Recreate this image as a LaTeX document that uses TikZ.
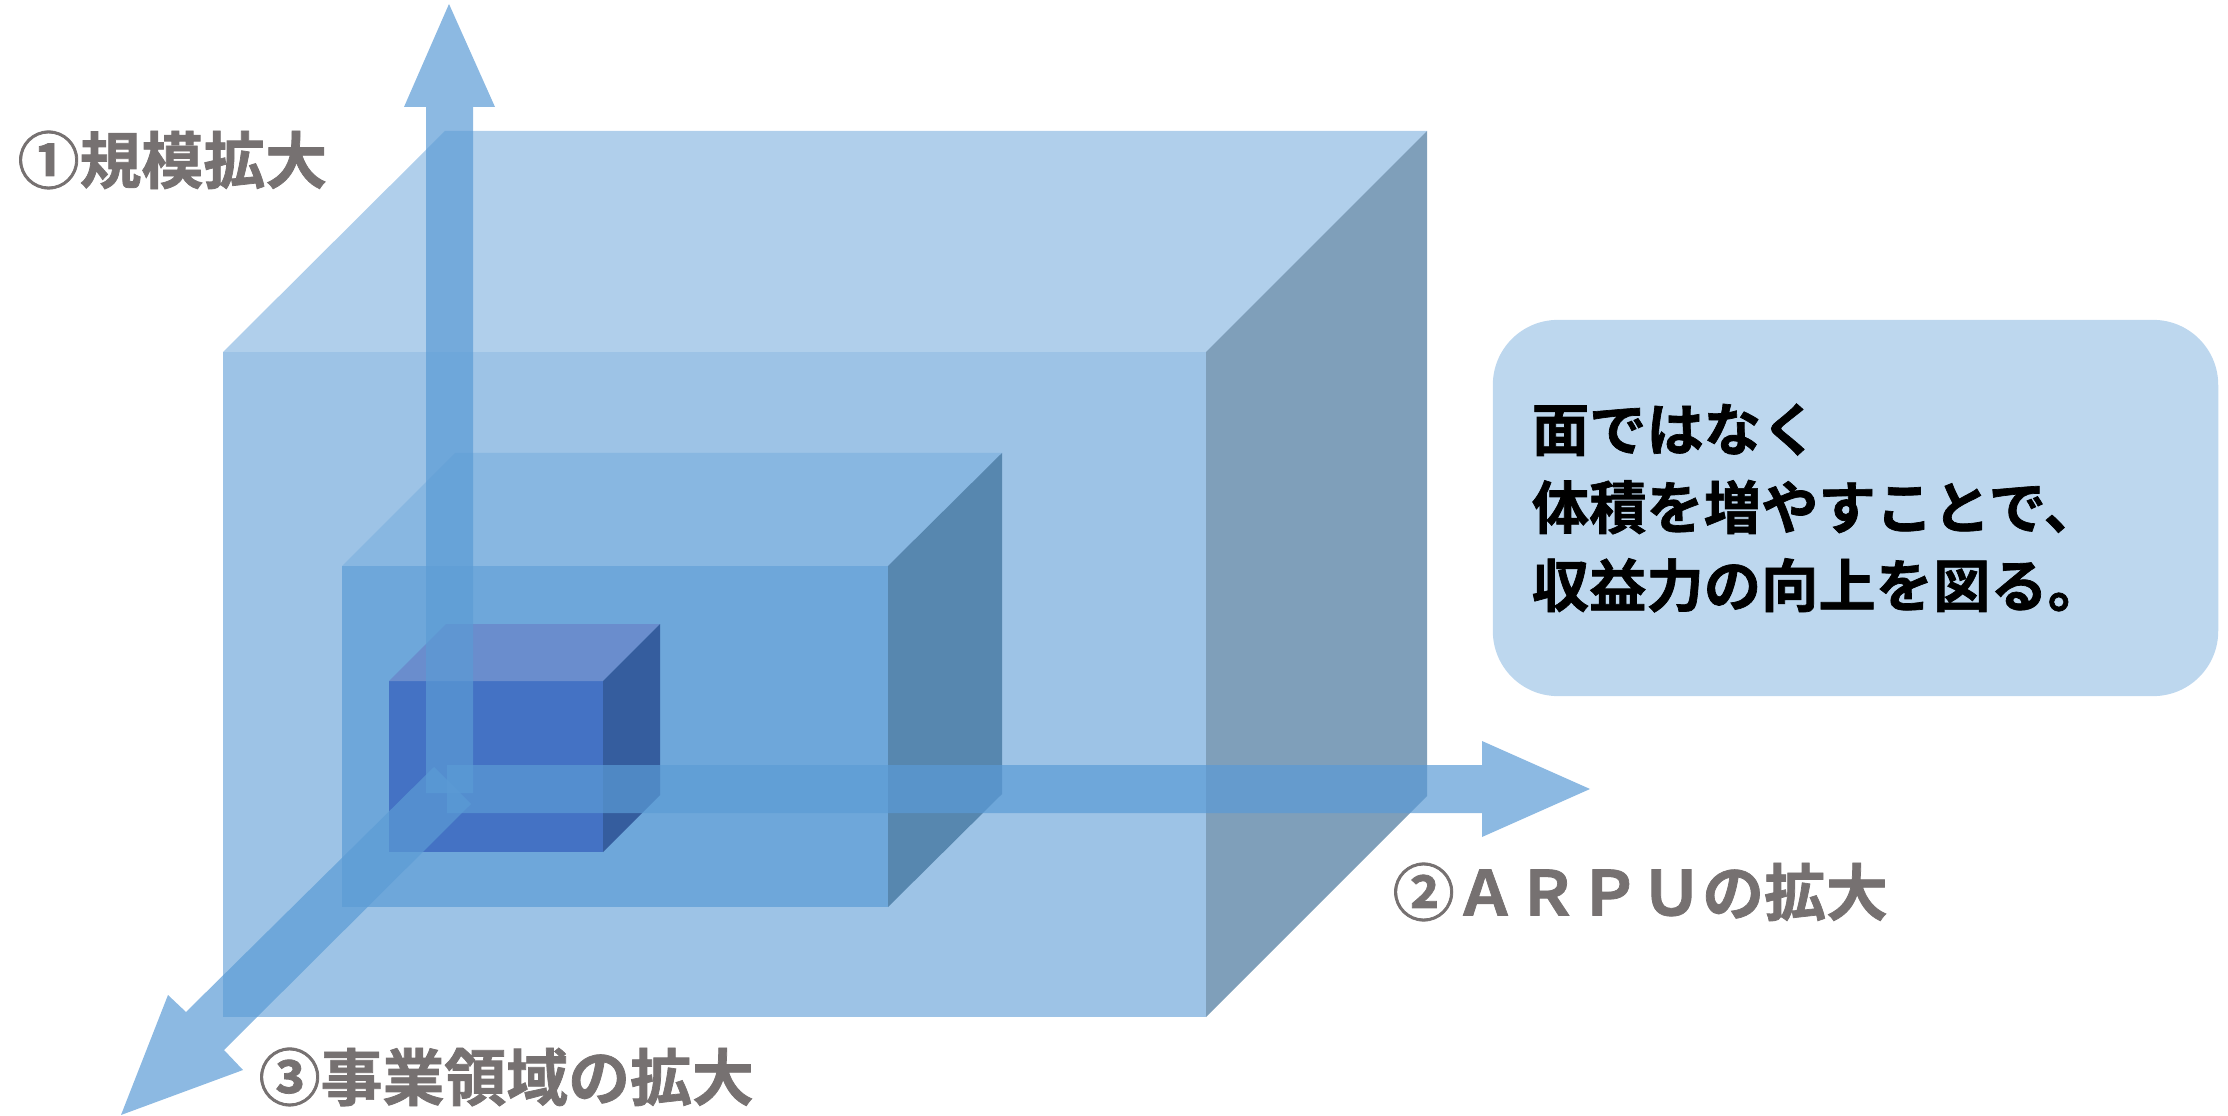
\documentclass[tikz,border=0pt]{standalone}
\usepackage{fontspec}
\usepackage{tikz}
\newfontfamily\jpfont{Noto Sans CJK JP}[BoldFont={Noto Sans CJK JP Bold}, BoldFeatures={FakeBold=1.2}]
\definecolor{facecolor}{RGB}{91, 155, 213}
\definecolor{topcolor}{RGB}{123, 175, 222}
\definecolor{sidecolor}{RGB}{42, 95, 140}
\definecolor{cubefront}{RGB}{68, 114, 196}
\definecolor{cubetop}{RGB}{106, 141, 205}
\definecolor{cubeside}{RGB}{53, 93, 158}
\definecolor{labelcolor}{RGB}{118, 113, 113}
\definecolor{notecolor}{RGB}{189, 215, 238}

\begin{document}
\begin{tikzpicture}[x=0.01cm, y=-0.01cm,
    frontface/.style={fill=facecolor, fill opacity=0.6},
    topface/.style={fill=topcolor, fill opacity=0.6},
    sideface/.style={fill=sidecolor, fill opacity=0.6},
    axisarrow/.style={fill=facecolor, fill opacity=0.7},
    axislabel/.style={anchor=west, inner sep=0pt, text=labelcolor, font=\jpfont\bfseries\fontsize{17.6}{21}\selectfont},
    notebox/.style={fill=notecolor, rounded corners=0.65cm, minimum width=7.25cm, minimum height=3.76cm,
        inner xsep=0.39cm, text width=6.47cm, align=left, font=\jpfont\bfseries\fontsize{16.3}{22.2}\selectfont}]
    \useasboundingbox (0,0) rectangle (2228,1116);

    % Large box
    \fill[frontface] (223,352) rectangle (1206,1017);
    \fill[topface] (223,352) -- (445,131) -- (1427,131) -- (1206,352) -- cycle;
    \fill[sideface] (1206,352) -- (1427,131) -- (1427,796) -- (1206,1017) -- cycle;

    % Medium box
    \fill[frontface, fill opacity=0.7] (342,566) rectangle (888,907);
    \fill[topface] (342,566) -- (455,453) -- (1002,453) -- (888,566) -- cycle;
    \fill[sideface] (888,566) -- (1002,453) -- (1002,794) -- (888,907) -- cycle;

    % Small cube
    \fill[cubefront] (389,681) rectangle (603,852);
    \fill[cubetop] (389,681) -- (446,624) -- (660,624) -- (603,681) -- cycle;
    \fill[cubeside] (603,681) -- (660,624) -- (660,795) -- (603,852) -- cycle;

    % Axis 1 (up)
    \fill[axisarrow] (426,793) -- (426,107) -- (404,107) -- (449,4) -- (495,107) -- (473,107) -- (473,793) -- cycle;
    % Axis 2 (right)
    \fill[axisarrow] (447,765) -- (1482,765) -- (1482,741) -- (1590,789) -- (1482,837) -- (1482,813) -- (447,813) -- cycle;
    % Axis 3 (front)
    \fill[axisarrow] (434,767) -- (186,1012) -- (168,995) -- (121,1115) -- (243,1070) -- (224,1050) -- (471,804) -- cycle;

    % Axis labels
    \node[axislabel] (scale) at (17,160) {①規模拡大};
    \node[axislabel] (arpu) at (1392,892) {②ＡＲＰＵの拡大};
    \node[axislabel] (domain) at (258,1077) {③事業領域の拡大};

    % Note
    \node[notebox] (note) at (1855.5,508) {面ではなく\\体積を増やすことで、\\収益力の向上を図る。};

\end{tikzpicture}
\end{document}
